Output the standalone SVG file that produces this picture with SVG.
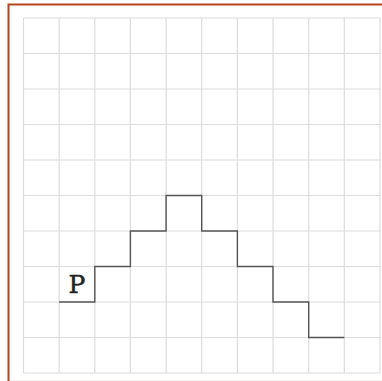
<svg xmlns="http://www.w3.org/2000/svg" width="382" height="381" viewBox="0 0 382 381">
<style>
.grid line{stroke:#dcdcdc;stroke-width:1.2}
.stairs{fill:none;stroke:#555;stroke-width:1.4}
.lbl{font-family:"DejaVu Serif","Liberation Serif",serif;font-size:25px;fill:#222;stroke:#222;stroke-width:0.5}
</style>
<rect width="382" height="381" fill="#fff"/>
<rect x="8.5" y="4.5" width="380" height="377.4" fill="none" stroke="#b5451b" stroke-width="2"/>
<g class="grid" id="grid">
<line x1="23.5" y1="18" x2="23.5" y2="373"/>
<line x1="59.1" y1="18" x2="59.1" y2="373"/>
<line x1="94.8" y1="18" x2="94.8" y2="373"/>
<line x1="130.4" y1="18" x2="130.4" y2="373"/>
<line x1="166.1" y1="18" x2="166.1" y2="373"/>
<line x1="201.7" y1="18" x2="201.7" y2="373"/>
<line x1="237.4" y1="18" x2="237.4" y2="373"/>
<line x1="273" y1="18" x2="273" y2="373"/>
<line x1="308.7" y1="18" x2="308.7" y2="373"/>
<line x1="344.3" y1="18" x2="344.3" y2="373"/>
<line x1="380" y1="18" x2="380" y2="373"/>
<line x1="23.5" y1="18" x2="380" y2="18"/>
<line x1="23.5" y1="53.5" x2="380" y2="53.5"/>
<line x1="23.5" y1="89" x2="380" y2="89"/>
<line x1="23.5" y1="124.5" x2="380" y2="124.5"/>
<line x1="23.5" y1="160" x2="380" y2="160"/>
<line x1="23.5" y1="195.5" x2="380" y2="195.5"/>
<line x1="23.5" y1="231" x2="380" y2="231"/>
<line x1="23.5" y1="266.5" x2="380" y2="266.5"/>
<line x1="23.5" y1="302" x2="380" y2="302"/>
<line x1="23.5" y1="337.5" x2="380" y2="337.5"/>
<line x1="23.5" y1="373" x2="380" y2="373"/>
</g>
<g id="connectors">
<path class="stairs" d="M59.1 302H94.8V266.5H130.4V231H166.1V195.5H201.7V231H237.4V266.5H273V302H308.7V337.5H344.3"/>
</g>
<g id="label-P">
<text class="lbl" x="77" y="293" text-anchor="middle">P</text>
</g>
</svg>
